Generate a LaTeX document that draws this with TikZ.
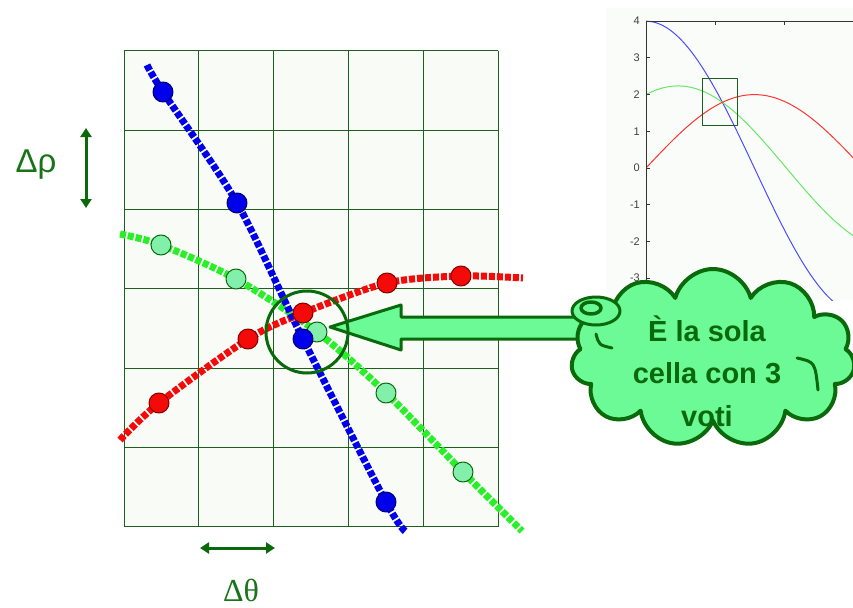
\documentclass[tikz,border=0pt]{standalone}
\usepackage{fontspec}
\setmainfont{Liberation Sans}
\newfontfamily\timesgreek{Liberation Serif}
\usetikzlibrary{arrows.meta, shapes.symbols}

\definecolor{gridgreen}{RGB}{30,95,30}
\definecolor{darkgreen}{RGB}{10,105,10}
\definecolor{labelgreen}{RGB}{25,115,25}
\definecolor{mint}{RGB}{108,250,150}
\definecolor{dotmint}{RGB}{130,240,170}
\definecolor{linegreen}{RGB}{40,240,40}
\definecolor{lineblue}{RGB}{0,0,235}
\definecolor{linered}{RGB}{245,10,10}
\definecolor{cellbg}{RGB}{249,251,247}
\definecolor{plotbg}{RGB}{250,252,249}

\tikzset{
  pixline/.style={line width=7pt, dash pattern=on 6pt off 2pt},
  vote/.style={circle, inner sep=0pt, minimum size=20pt, line width=1pt},
  bluevote/.style={vote, fill=lineblue, draw=blue!45!black},
  redvote/.style={vote, fill=linered, draw=red!50!black},
  greenvote/.style={vote, fill=dotmint, draw=darkgreen},
  sizearrow/.style={darkgreen, line width=3pt, {Triangle[length=9pt,width=11pt]}-{Triangle[length=9pt,width=11pt]}},
  ticklabel/.style={anchor=east, inner sep=0pt, text=black!75, font=\fontsize{11}{11}\selectfont},
  puffline/.style={darkgreen, line width=3pt, line cap=round}
}

\begin{document}
\begin{tikzpicture}[x=1pt, y=-1pt, line join=round]
\useasboundingbox (0,0) rectangle (853,607);

% accumulator grid
\fill[cellbg] (124,51) rectangle (498,527);
\foreach \i in {0,...,5}
  \draw[gridgreen, line width=1pt] (124+74.8*\i,51) -- (124+74.8*\i,527);
\foreach \j in {0,...,6}
  \draw[gridgreen, line width=1pt] (124,51+79.3*\j) -- (498,51+79.3*\j);

% votes of the three points
\coordinate (b0) at (147,65);
\coordinate (b1) at (163,92);
\coordinate (b2) at (237,203);
\coordinate (b3) at (303,339);
\coordinate (b4) at (386,502);
\coordinate (b5) at (406,532);
\coordinate (g0) at (120,234);
\coordinate (g1) at (161,245);
\coordinate (g2) at (236,279);
\coordinate (g3) at (317,332);
\coordinate (g4) at (386,393);
\coordinate (g5) at (463,472);
\coordinate (g6) at (522,531);
\coordinate (r0) at (120,440);
\coordinate (r1) at (159,403);
\coordinate (r2) at (248,339);
\coordinate (r3) at (303,313);
\coordinate (r4) at (387,283);
\coordinate (r5) at (461,276);
\coordinate (r6) at (523,278);

\draw[pixline, linegreen] plot[smooth] coordinates {(g0) (g1) (g2) (g3) (g4) (g5) (g6)};
\draw[pixline, linered] plot[smooth] coordinates {(r0) (r1) (r2) (r3) (r4) (r5) (r6)};
\draw[pixline, lineblue] plot[smooth] coordinates {(b0) (b1) (b2) (b3) (b4) (b5)};

\foreach \k in {1,...,5}
  \node[greenvote] (gv\k) at (g\k) {};
\foreach \k in {1,...,5}
  \node[redvote] (rv\k) at (r\k) {};
\foreach \k in {1,...,4}
  \node[bluevote] (bv\k) at (b\k) {};

% cell sizes
\coordinate (rhotop) at (86,128);
\coordinate (rhobot) at (86,208);
\draw[sizearrow] (rhotop) -- (rhobot);
\node[text=labelgreen, font=\fontsize{33}{33}\selectfont] (drho) at (36,165) {Δρ};
\coordinate (thleft) at (200,548);
\coordinate (thright) at (275,548);
\draw[sizearrow] (thleft) -- (thright);
\node[anchor=base, inner sep=0pt, text=labelgreen, font=\timesgreek\fontsize{32}{32}\selectfont] (dtheta) at (241,601) {Δθ};

% curves in the parameter space
\begin{scope}
  \fill[plotbg] (606,8) rectangle (853,300);
  \clip (646,21) rectangle (853,300);
  \draw[blue!70, line width=1pt, domain=0:3.14, samples=80, smooth, variable=\t]
    plot ({646+69*\t},{168-36.7*4*cos(\t r)});
  \draw[green!85!black!60, line width=1pt, domain=0:3.14, samples=80, smooth, variable=\t]
    plot ({646+69*\t},{168-36.7*(2*cos(\t r)+sin(\t r))});
  \draw[red!80, line width=1pt, domain=0:3.14, samples=80, smooth, variable=\t]
    plot ({646+69*\t},{168-36.7*2*sin(\t r)});
\end{scope}
\draw[black!80, line width=0.8pt] (646,300) -- (646,21) -- (853,21);
\foreach \v/\lab in {4/4,3/3,2/2,1/1,0/0,-1/-1,-2/-2,-3/-3} {
  \draw[black!80, line width=0.8pt] (646,168-36.7*\v) -- (650,168-36.7*\v);
  \node[ticklabel] (tick\v) at (640,168-36.7*\v) {\lab};
}
\foreach \u in {1,2}
  \draw[black!80, line width=0.8pt] (646+69*\u,21) -- (646+69*\u,25);
\draw[gridgreen, line width=1pt] (702,79) rectangle (737,125);

% pointer to the winning cell
\draw[darkgreen, line width=3pt, fill=mint]
  (330,327) -- (401,305) -- (401,317) -- (600,317) -- (600,339) -- (401,339) -- (401,350) -- cycle;
\node[circle, draw=darkgreen, line width=3pt, minimum size=82pt, inner sep=0pt] (cell) at (307,332) {};

% thought bubble
\node[cloud, cloud puffs=11, aspect=1.6, draw=darkgreen, fill=mint, line width=4pt,
  minimum width=284pt, minimum height=178pt, inner sep=0pt] (bubble) at (713,358) {};
\draw[puffline] (596,334) .. controls (599,345) .. (612,348);
\draw[puffline] (797,358) .. controls (815,362) .. (818,390);
\draw[darkgreen, line width=3pt, fill=mint] (596,311) ellipse[x radius=24, y radius=14];
\draw[darkgreen, line width=3.5pt, fill=mint] (591,308) ellipse[x radius=10, y radius=6];
\node[text=darkgreen, align=center, font=\fontsize{29}{42.5}\selectfont\bfseries] (msg) at (707,371)
  {È la sola\\cella con 3\\voti};
\end{tikzpicture}
\end{document}
